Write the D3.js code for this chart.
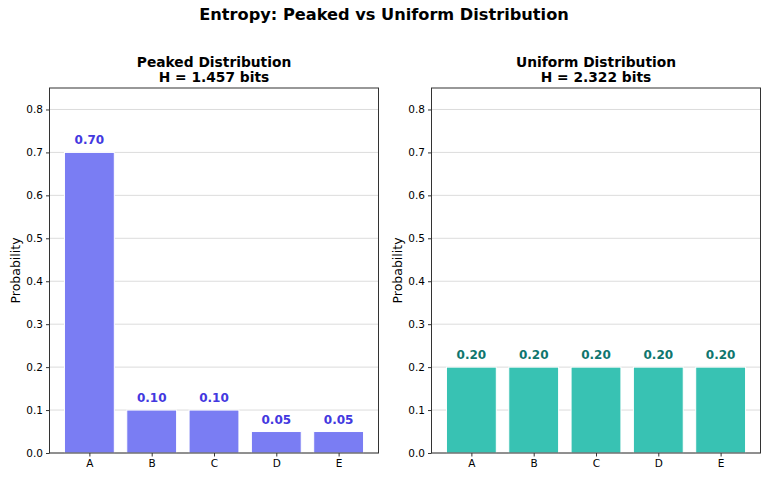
<!DOCTYPE html>
<html>
<head>
<meta charset="utf-8">
<script src="https://cdn.jsdelivr.net/npm/d3@7"></script>
<style>
  body { margin: 0; background: #fff; }
  text { font-family: "DejaVu Sans", sans-serif; }
</style>
</head>
<body>
<div id="wrapper"></div>
<script>
const categories = ["A", "B", "C", "D", "E"]
const peakedValues = [0.70, 0.10, 0.10, 0.05, 0.05]
const uniformValues = [0.20, 0.20, 0.20, 0.20, 0.20]
const yTicks = [0.0, 0.1, 0.2, 0.3, 0.4, 0.5, 0.6, 0.7, 0.8]
const panelTitles = ["Peaked Distribution", "Uniform Distribution"]
const entropyLabels = ["H = 1.457 bits", "H = 2.322 bits"]

const width = 768
const height = 479

const svg = d3.select("#wrapper")
    .append("svg")
    .attr("width", width)
    .attr("height", height)

svg.append("text")
    .attr("x", width / 2)
    .attr("y", 20)
    .attr("text-anchor", "middle")
    .attr("font-size", "16.2px")
    .attr("font-weight", "bold")
    .text("Entropy: Peaked vs Uniform Distribution")

function drawPanel(left, values, title, subtitle, barColor, labelColor) {
    const plotW = 329
    const top = 88
    const plotH = 365

    const g = svg.append("g")
        .attr("transform", `translate(${left},${top})`)

    // matplotlib xlim -0.64..4.64
    const xScaler = d3.scaleLinear()
        .domain([-0.64, 4.64])
        .range([0, plotW])
    const yScaler = d3.scaleLinear()
        .domain([0, 0.85])
        .range([plotH, 0])

    // grid
    g.append("g")
        .selectAll("line")
        .data(yTicks)
        .enter()
        .append("line")
        .attr("x1", 0)
        .attr("x2", plotW)
        .attr("y1", d => yScaler(d))
        .attr("y2", d => yScaler(d))
        .attr("stroke", "#dcdcdc")
        .attr("stroke-width", 1)

    const barW = xScaler(0.8) - xScaler(0)
    g.append("g")
        .selectAll("rect")
        .data(values)
        .enter()
        .append("rect")
        .attr("x", (d, i) => xScaler(i) - barW / 2)
        .attr("y", d => yScaler(d))
        .attr("width", barW)
        .attr("height", d => plotH - yScaler(d))
        .attr("fill", barColor)
        .attr("stroke", "#fff")
        .attr("stroke-width", 1)

    g.append("g")
        .selectAll("text")
        .data(values)
        .enter()
        .append("text")
        .attr("x", (d, i) => xScaler(i))
        .attr("y", d => yScaler(d) - 8)
        .attr("text-anchor", "middle")
        .attr("font-size", "12px")
        .attr("font-weight", "bold")
        .attr("fill", labelColor)
        .text(d => d.toFixed(2))

    const xAxis = g.append("g")
        .attr("transform", `translate(0,${plotH})`)
        .call(d3.axisBottom(xScaler)
            .tickValues(d3.range(categories.length))
            .tickFormat(i => categories[i])
            .tickSize(3.5)
            .tickSizeOuter(0))
    xAxis.select(".domain").remove()

    const yAxis = g.append("g")
        .call(d3.axisLeft(yScaler)
            .tickValues(yTicks)
            .tickFormat(d3.format(".1f"))
            .tickSize(3.5)
            .tickSizeOuter(0))
    yAxis.select(".domain").remove()

    g.selectAll(".tick text")
        .attr("font-family", "DejaVu Sans, sans-serif")
        .attr("font-size", "10.5px")
        .attr("fill", "#000")
    g.selectAll(".tick line").attr("stroke", "#333")

    // frame
    g.append("rect")
        .attr("width", plotW)
        .attr("height", plotH)
        .attr("fill", "none")
        .attr("stroke", "#333")
        .attr("stroke-width", 1)

    g.append("text")
        .attr("x", plotW / 2)
        .attr("y", -21)
        .attr("text-anchor", "middle")
        .attr("font-size", "13.8px")
        .attr("font-weight", "bold")
        .text(title)
    g.append("text")
        .attr("x", plotW / 2)
        .attr("y", -6)
        .attr("text-anchor", "middle")
        .attr("font-size", "13.8px")
        .attr("font-weight", "bold")
        .text(subtitle)

    g.append("text")
        .attr("transform", `translate(${-30},${plotH / 2}) rotate(-90)`)
        .attr("text-anchor", "middle")
        .attr("font-size", "12.5px")
        .text("Probability")
}

drawPanel(49.5, peakedValues, panelTitles[0], entropyLabels[0], "#7a7df3", "#4338e0")
drawPanel(431.5, uniformValues, panelTitles[1], entropyLabels[1], "#38c2b3", "#0f766e")
</script>
</body>
</html>
